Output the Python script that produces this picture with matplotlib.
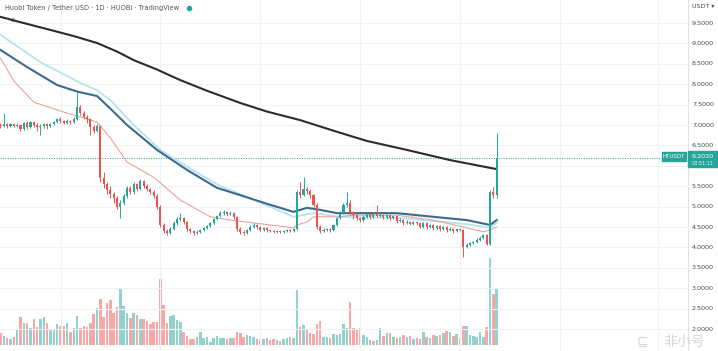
import matplotlib
matplotlib.use("Agg")
import matplotlib.pyplot as plt
from matplotlib.patches import Rectangle

# ---------------- data ----------------
opens = [7.0, 6.98, 7.03, 6.97, 7.02, 6.98, 7.0, 6.9, 7.05, 6.95,
         7.08, 7.0, 6.95, 6.98, 7.03, 6.97, 7.02, 7.08, 7.14, 7.1,
         7.05, 7.1, 7.07, 7.15, 7.45, 7.3, 7.2, 7.15, 6.95, 6.85,
         6.98, 5.7, 5.55, 5.4, 5.3, 5.2, 5.0, 5.1, 5.25, 5.45,
         5.35, 5.55, 5.42, 5.62, 5.5, 5.42, 5.35, 5.25, 5.0, 4.55,
         4.4, 4.35, 4.45, 4.6, 4.7, 4.72, 4.62, 4.45, 4.4, 4.35,
         4.38, 4.42, 4.48, 4.52, 4.6, 4.7, 4.78, 4.85, 4.88, 4.82,
         4.85, 4.75, 4.45, 4.38, 4.35, 4.42, 4.5, 4.55, 4.5, 4.43,
         4.47, 4.42, 4.4, 4.38, 4.4, 4.38, 4.41, 4.42, 4.4, 4.45,
         5.35, 5.28, 5.42, 5.38, 5.28, 5.05, 4.5, 4.4, 4.43, 4.45,
         4.42, 4.55, 4.72, 4.85, 5.05, 5.1, 4.85, 4.8, 4.72, 4.68,
         4.75, 4.82, 4.75, 4.82, 4.78, 4.8, 4.74, 4.79, 4.72, 4.76,
         4.65, 4.68, 4.6, 4.63, 4.58, 4.62, 4.6, 4.5, 4.6, 4.5,
         4.55, 4.47, 4.52, 4.45, 4.5, 4.42, 4.46, 4.4, 4.45, 4.43,
         4.0, 4.07, 4.1, 4.13, 4.18, 4.24, 4.3, 4.08, 5.35, 5.28]
highs = [7.05, 7.3, 7.06, 7.06, 7.05, 7.04, 7.03, 7.08, 7.1, 7.1,
         7.1, 7.05, 7.02, 7.06, 7.05, 7.05, 7.1, 7.17, 7.2, 7.13,
         7.14, 7.12, 7.2, 7.8, 7.5, 7.35, 7.25, 7.18, 7.0, 7.02,
         7.0, 5.85, 5.6, 5.5, 5.35, 5.25, 5.15, 5.3, 5.5, 5.5,
         5.6, 5.58, 5.68, 5.65, 5.55, 5.46, 5.4, 5.3, 5.05, 4.6,
         4.45, 4.5, 4.65, 4.75, 4.85, 4.75, 4.65, 4.48, 4.42, 4.42,
         4.45, 4.5, 4.55, 4.63, 4.73, 4.8, 4.9, 4.92, 4.9, 4.9,
         4.88, 4.78, 4.5, 4.42, 4.45, 4.55, 4.6, 4.58, 4.53, 4.5,
         4.5, 4.45, 4.42, 4.43, 4.42, 4.43, 4.45, 4.44, 4.48, 5.4,
         5.6, 5.72, 5.48, 5.42, 5.3, 5.08, 4.55, 4.47, 4.48, 4.48,
         4.58, 4.75, 4.9, 5.1, 5.35, 5.15, 4.9, 4.85, 4.75, 4.8,
         4.88, 4.85, 4.86, 5.05, 4.84, 4.83, 4.82, 4.8, 4.78, 4.78,
         4.72, 4.7, 4.66, 4.65, 4.65, 4.65, 4.63, 4.63, 4.62, 4.58,
         4.57, 4.55, 4.55, 4.53, 4.52, 4.49, 4.48, 4.48, 4.48, 4.45,
         4.1, 4.13, 4.16, 4.22, 4.27, 4.33, 4.32, 5.4, 5.48, 6.8]
lows = [6.92, 6.95, 6.93, 6.94, 6.95, 6.95, 6.85, 6.88, 6.9, 6.92,
        6.95, 6.85, 6.75, 6.92, 6.9, 6.95, 7.0, 7.05, 7.05, 7.02,
        7.02, 7.03, 7.05, 7.12, 7.25, 7.15, 7.05, 6.75, 6.8, 6.82,
        5.6, 5.45, 5.3, 5.2, 5.1, 4.95, 4.72, 5.05, 5.2, 5.3,
        5.3, 5.38, 5.4, 5.45, 5.38, 5.3, 5.2, 4.95, 4.5, 4.35,
        4.3, 4.32, 4.42, 4.55, 4.65, 4.58, 4.4, 4.35, 4.3, 4.33,
        4.35, 4.4, 4.45, 4.5, 4.58, 4.67, 4.75, 4.8, 4.78, 4.8,
        4.7, 4.4, 4.32, 4.3, 4.32, 4.4, 4.47, 4.45, 4.4, 4.4,
        4.38, 4.37, 4.35, 4.36, 4.35, 4.36, 4.38, 4.37, 4.38, 4.42,
        5.2, 5.25, 5.3, 5.22, 5.0, 4.45, 4.35, 4.38, 4.4, 4.38,
        4.4, 4.52, 4.7, 4.82, 5.0, 4.8, 4.7, 4.68, 4.62, 4.65,
        4.72, 4.7, 4.72, 4.75, 4.74, 4.7, 4.7, 4.68, 4.69, 4.6,
        4.62, 4.56, 4.57, 4.55, 4.55, 4.55, 4.47, 4.48, 4.46, 4.47,
        4.43, 4.44, 4.4, 4.42, 4.38, 4.4, 4.36, 4.38, 4.4, 3.76,
        3.98, 4.04, 4.08, 4.1, 4.15, 4.2, 4.05, 4.05, 5.2, 5.2]
closes = [6.98, 7.03, 6.97, 7.02, 6.98, 7.0, 6.9, 7.05, 6.95, 7.08,
          7.0, 6.95, 6.98, 7.03, 6.97, 7.02, 7.08, 7.14, 7.1, 7.05,
          7.1, 7.07, 7.15, 7.45, 7.3, 7.2, 7.15, 6.95, 6.85, 6.98,
          5.7, 5.55, 5.4, 5.3, 5.2, 5.0, 5.1, 5.25, 5.45, 5.35,
          5.55, 5.42, 5.62, 5.5, 5.42, 5.35, 5.25, 5.0, 4.55, 4.4,
          4.35, 4.45, 4.6, 4.7, 4.72, 4.62, 4.45, 4.4, 4.35, 4.38,
          4.42, 4.48, 4.52, 4.6, 4.7, 4.78, 4.85, 4.88, 4.82, 4.85,
          4.75, 4.45, 4.38, 4.35, 4.42, 4.5, 4.55, 4.5, 4.43, 4.47,
          4.42, 4.4, 4.38, 4.4, 4.38, 4.41, 4.42, 4.4, 4.45, 5.35,
          5.28, 5.42, 5.38, 5.28, 5.05, 4.5, 4.4, 4.43, 4.45, 4.42,
          4.55, 4.72, 4.85, 5.05, 5.1, 4.85, 4.8, 4.72, 4.68, 4.75,
          4.82, 4.75, 4.82, 4.78, 4.8, 4.74, 4.79, 4.72, 4.76, 4.65,
          4.68, 4.6, 4.63, 4.58, 4.62, 4.6, 4.5, 4.6, 4.5, 4.55,
          4.47, 4.52, 4.45, 4.5, 4.42, 4.46, 4.4, 4.45, 4.43, 4.0,
          4.07, 4.1, 4.13, 4.18, 4.24, 4.3, 4.08, 5.35, 5.28, 6.203]
volumes = [12, 9, 7, 6, 8, 15, 28, 22, 22, 17,
           26, 18, 26, 28, 22, 16, 16, 21, 19, 19,
           22, 13, 17, 29, 17, 19, 18, 22, 31, 37,
           46, 28, 42, 45, 32, 38, 57, 39, 32, 27,
           32, 30, 26, 26, 24, 21, 23, 23, 66, 40,
           22, 29, 30, 25, 23, 13, 9, 6, 6, 8,
           13, 7, 8, 3, 7, 9, 7, 7, 6, 7,
           7, 13, 12, 8, 10, 9, 8, 6, 6, 6,
           7, 5, 6, 5, 4, 6, 7, 8, 7, 55,
           18, 20, 16, 12, 11, 21, 24, 8, 8, 7,
           11, 10, 11, 21, 17, 43, 17, 15, 17, 10,
           8, 5, 4, 5, 17, 9, 12, 12, 8, 7,
           8, 10, 8, 9, 6, 7, 6, 13, 8, 7,
           10, 9, 10, 12, 14, 13, 9, 11, 7, 19,
           19, 10, 9, 8, 13, 8, 18, 87, 51, 56]

# moving-average lines, sampled at read points (candle index, price)
ma_black_idx = [0, 6, 15, 22, 29, 35, 40, 47, 54, 62, 72, 80, 90, 100, 110, 122, 135, 147, 149]
ma_black_val = [9.65, 9.52, 9.33, 9.18, 9.01, 8.80, 8.59, 8.36, 8.10, 7.84, 7.54, 7.33,
                7.12, 6.86, 6.61, 6.39, 6.14, 5.95, 5.92]
ma_blue_idx = [0, 8, 17, 23, 29, 33, 38, 47, 56, 65, 72, 80, 88, 92, 96, 101, 111, 119, 130, 140, 147, 149]
ma_blue_val = [8.84, 8.42, 7.98, 7.82, 7.71, 7.40, 7.0, 6.39, 5.90, 5.46, 5.28, 5.07, 4.87,
               4.97, 4.92, 4.84, 4.84, 4.84, 4.75, 4.67, 4.55, 4.67]
ma_cyan_idx = [0, 12, 24, 29, 33, 40, 48, 57, 66, 74, 88, 94, 102, 120, 140, 147, 149]
ma_cyan_val = [9.21, 8.54, 8.03, 7.85, 7.61, 7.0, 6.39, 5.93, 5.50, 5.24, 4.75, 4.84, 4.75,
               4.72, 4.57, 4.48, 4.60]
ma_red_idx = [0, 4, 10, 20, 24, 29, 33, 38, 46, 54, 63, 69, 74, 88, 89, 92, 94, 96, 102, 105,
              111, 119, 130, 140, 145, 147, 149]
ma_red_val = [8.64, 8.08, 7.56, 7.29, 7.20, 7.07, 6.68, 6.09, 5.72, 5.16, 4.75, 4.67, 4.62,
              4.48, 4.55, 4.62, 4.75, 4.75, 4.75, 4.79, 4.79, 4.79, 4.67, 4.48, 4.38, 4.43, 4.50]

price_ticks = [9.5, 9.0, 8.5, 8.0, 7.5, 7.0, 6.5, 5.5, 5.0, 4.5, 4.0, 3.5, 3.0, 2.5, 2.0]
last_price = 6.203
title = "Huobi Token / Tether USD \u00b7 1D \u00b7 HUOBI \u00b7 TradingView"

# ---------------- styling ----------------
UP = "#26a69a"
DOWN = "#ef5350"
W, H = 718, 351
PLOT_W = 688

fig = plt.figure(figsize=(W / 100, H / 100), dpi=100)
fig.patch.set_facecolor("white")
ax = fig.add_axes([0, 0, PLOT_W / W, 1])
axv = ax.twinx()
ax.set_zorder(axv.get_zorder() + 1)
ax.patch.set_visible(False)

px_per_bar = 3.33
xmin = -0.15
xmax = xmin + PLOT_W / px_per_bar
ax.set_xlim(xmin, xmax)
axv.set_xlim(xmin, xmax)
ymin, ymax = 1.461, 10.064
ax.set_ylim(ymin, ymax)
axv.set_ylim(-6, 345)

# grid
for p in price_ticks + [6.0]:
    ax.axhline(p, color="#f0f2f6", lw=0.8, zorder=0)
for gx in [61, 160, 260, 360, 460, 560, 658]:
    ax.axvline(xmin + gx / px_per_bar, color="#f0f2f6", lw=0.8, zorder=0)

n = len(closes)
xs = list(range(n))
# volume
vcol = [UP if c >= o else DOWN for o, c in zip(opens, closes)]
axv.bar(xs, volumes, width=0.75, color=vcol, alpha=0.5, linewidth=0)
axv.set_axis_off()

# moving averages
ax.plot(ma_cyan_idx, ma_cyan_val, color="#b5e3ef", lw=1.3, zorder=2, solid_joinstyle="round")
ax.plot(ma_red_idx, ma_red_val, color="#e8a49c", lw=0.8, zorder=2, solid_joinstyle="round")
ax.plot(ma_blue_idx, ma_blue_val, color="#3c6a8e", lw=1.5, zorder=3, solid_joinstyle="round")
ax.plot(ma_black_idx, ma_black_val, color="#2c2c2c", lw=1.5, zorder=3, solid_joinstyle="round")

# candles
for i in xs:
    o, h, l, c = opens[i], highs[i], lows[i], closes[i]
    col = UP if c >= o else DOWN
    ax.vlines(i, l, h, color=col, lw=0.7, zorder=4)
    bot = min(o, c)
    hgt = max(abs(c - o), 0.02)
    ax.bar(i, hgt, bottom=bot, width=0.62, color=col, linewidth=0, zorder=5)

# last price line
ax.axhline(last_price, color=UP, lw=0.7, ls=(0, (1, 1.5)), zorder=1)

for s in ax.spines.values():
    s.set_visible(False)
ax.set_xticks([])
ax.set_yticks([])

# right price axis
fig.add_artist(plt.Line2D([PLOT_W / W, PLOT_W / W], [0, 1], color="#e0e3eb", lw=0.8))
def fy(p):
    return (p - ymin) / (ymax - ymin)
for p in price_ticks:
    fig.text(692 / W, fy(p), f"{p:.4f}", fontsize=4.6, color="#4a4a4a",
             va="center", ha="left")
fig.text(692 / W, 1 - 6 / H, "USDT \u25be", fontsize=4.6, color="#4a4a4a",
         va="center", ha="left")
# last price labels
fig.patches.append(Rectangle((688 / W, 1 - 167 / H), 30 / W, 16 / H,
                             transform=fig.transFigure, color=UP, zorder=5))
fig.text(692 / W, 1 - 156 / H, f"{last_price:.4f}", fontsize=4.6, color="white",
         va="center", ha="left", zorder=6)
fig.text(692 / W, 1 - 163.5 / H, "03:51:11", fontsize=3.6, color="#dff3f0",
         va="center", ha="left", zorder=6)
fig.patches.append(Rectangle((662 / W, 1 - 161 / H), 24 / W, 9 / H,
                             transform=fig.transFigure, color=UP, zorder=5))
fig.text(674 / W, 1 - 156.5 / H, "HTUSDT", fontsize=4.0, color="white",
         va="center", ha="center", zorder=6)

# title / legend
fig.text(5 / W, 1 - 8 / H, title, fontsize=4.8, color="#555555", va="center", ha="left")
fig.add_artist(plt.Line2D([189 / W], [1 - 8 / H], marker="o", markersize=3,
                          color="#26a69a", transform=fig.transFigure))
fig.text(6 / W, 1 - 20 / H, "\u02c5 2", fontsize=4.6, color="#555555", va="center", ha="left")

# watermark (kept below the lowest price label)
fig.text(684 / W, 1 - 342 / H, "\u975e\u5c0f\u53f7", fontsize=10,
         family=["Noto Sans CJK SC", "DejaVu Sans"], color="#d0d0d0", alpha=0.85,
         va="center", ha="center", zorder=6)
fig.text(642 / W, 1 - 342 / H, "\u2291", fontsize=10, color="#d0d0d0", alpha=0.85,
         va="center", ha="center", zorder=6)

fig.savefig("out.png", dpi=100, facecolor="white")
